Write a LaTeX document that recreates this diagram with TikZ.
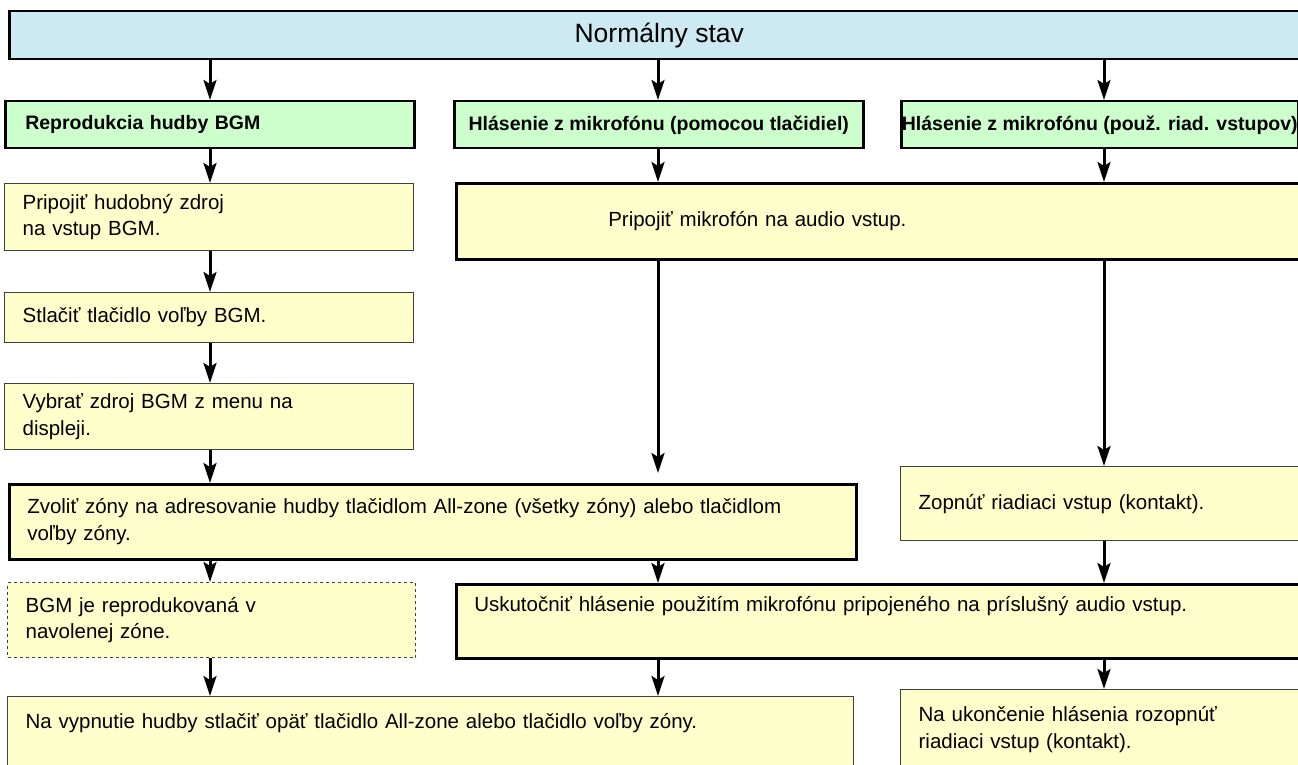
\documentclass[tikz,border=0pt]{standalone}
\usepackage{fontspec}
\setmainfont{Liberation Sans}
\usepackage{tikz}
\usetikzlibrary{arrows.meta,positioning}
\definecolor{stavblue}{HTML}{CDEAF2}
\definecolor{hlgreen}{HTML}{CCFFCC}
\definecolor{krokyellow}{HTML}{FFFFCC}
\definecolor{okraj}{HTML}{404040}
\tikzset{
  every picture/.style={line join=miter, >=Stealth},
  stav/.style={draw=black, line width=2.5pt, fill=stavblue, anchor=north west, inner sep=0pt, minimum height=48pt, font=\fontsize{26.5}{30}\selectfont},
  hlavny/.style={draw=black, line width=2.5pt, fill=hlgreen, anchor=north west, minimum height=47pt, inner ysep=0pt, font=\bfseries\fontsize{19.5}{24}\selectfont},
  krok/.style={draw=okraj, line width=1.3pt, fill=krokyellow, anchor=north west, align=left, inner xsep=18pt, inner ysep=0pt, font=\fontsize{20.5}{26.5}\selectfont},
  silny/.style={krok, draw=black, line width=2.5pt},
  vysledok/.style={krok, dashed},
  tok/.style={-{Stealth[length=20pt,width=13pt,inset=4pt]}, line width=3pt},
}

\begin{document}
\begin{tikzpicture}[x=1pt,y=-1pt]
\useasboundingbox (0,0) rectangle (1298,765);
\clip (0,0) rectangle (1298,765);
\coordinate (kA) at (210,0);
\coordinate (kB) at (658,0);
\coordinate (kC) at (1104,0);
\node[stav, minimum width=1300pt] (stav) at (8,10) {Normálny stav};
\node[hlavny, text width=369pt, inner xsep=20pt, align=left] (g1) at (4,100) {Reprodukcia hudby BGM};
\node[hlavny, minimum width=409pt, inner xsep=0pt] (g2) at (453,100) {Hlásenie z mikrofónu (pomocou tlačidiel)};
\node[hlavny, minimum width=397pt, inner xsep=0pt] (g3) at (900,100) {Hlásenie z mikrofónu (použ. riad. vstupov)};
\node[krok, text width=373pt, minimum height=67pt] (a1) at (4,183) {Pripojiť hudobný zdroj\\na vstup BGM.};
\node[krok, text width=373pt, minimum height=50pt] (a2) at (4,292) {Stlačiť tlačidlo voľby BGM.};
\node[krok, text width=373pt, minimum height=66pt] (a3) at (4,383) {Vybrať zdroj BGM z menu na\\displeji.};
\node[silny, text width=811pt, minimum height=75pt] (a4) at (8,483) {Zvoliť zóny na adresovanie hudby tlačidlom All-zone (všetky zóny) alebo tlačidlom\\voľby zóny.};
\node[vysledok, text width=372pt, minimum height=75pt] (a5) at (7,582) {BGM je reprodukovaná v\\navolenej zóne.};
\node[krok, text width=810pt, minimum height=84pt] (a6) at (7,696) {Na vypnutie hudby stlačiť opäť tlačidlo All-zone alebo tlačidlo voľby zóny.\\\strut};
\node[silny, text width=819pt, minimum height=76pt] (b1) at (455,182) {\hspace*{134pt}Pripojiť mikrofón na audio vstup.};
\node[silny, text width=819pt, minimum height=74pt] (b2) at (455,583) {Uskutočniť hlásenie použitím mikrofónu pripojeného na príslušný audio vstup.\\\strut};
\node[krok, text width=374pt, minimum height=74pt] (c1) at (900,466) {Zopnúť riadiaci vstup (kontakt).};
\node[krok, text width=374pt, minimum height=80pt] (c2) at (900,689) {Na ukončenie hlásenia rozopnúť\\riadiaci vstup (kontakt).};
% stlpec BGM
\draw[tok] (stav.south -| kA) -- (g1.north -| kA);
\draw[tok] (g1.south -| kA) -- (a1.north -| kA);
\draw[tok] (a1.south -| kA) -- (a2.north -| kA);
\draw[tok] (a2.south -| kA) -- (a3.north -| kA);
\draw[tok] (a3.south -| kA) -- (a4.north -| kA);
\draw[tok] (a4.south -| kA) -- (a5.north -| kA);
\draw[tok] (a5.south -| kA) -- (a6.north -| kA);
% stlpec tlacidla
\draw[tok] (stav.south -| kB) -- (g2.north -| kB);
\draw[tok] (g2.south -| kB) -- (b1.north -| kB);
\draw[tok, shorten >=10pt] (b1.south -| kB) -- (a4.north -| kB);
\draw[tok] (a4.south -| kB) -- (b2.north -| kB);
\draw[tok] (b2.south -| kB) -- (a6.north -| kB);
% stlpec riadiace vstupy
\draw[tok] (stav.south -| kC) -- (g3.north -| kC);
\draw[tok] (g3.south -| kC) -- (b1.north -| kC);
\draw[tok] (b1.south -| kC) -- (c1.north -| kC);
\draw[tok] (c1.south -| kC) -- (b2.north -| kC);
\draw[tok] (b2.south -| kC) -- (c2.north -| kC);
\end{tikzpicture}
\end{document}
